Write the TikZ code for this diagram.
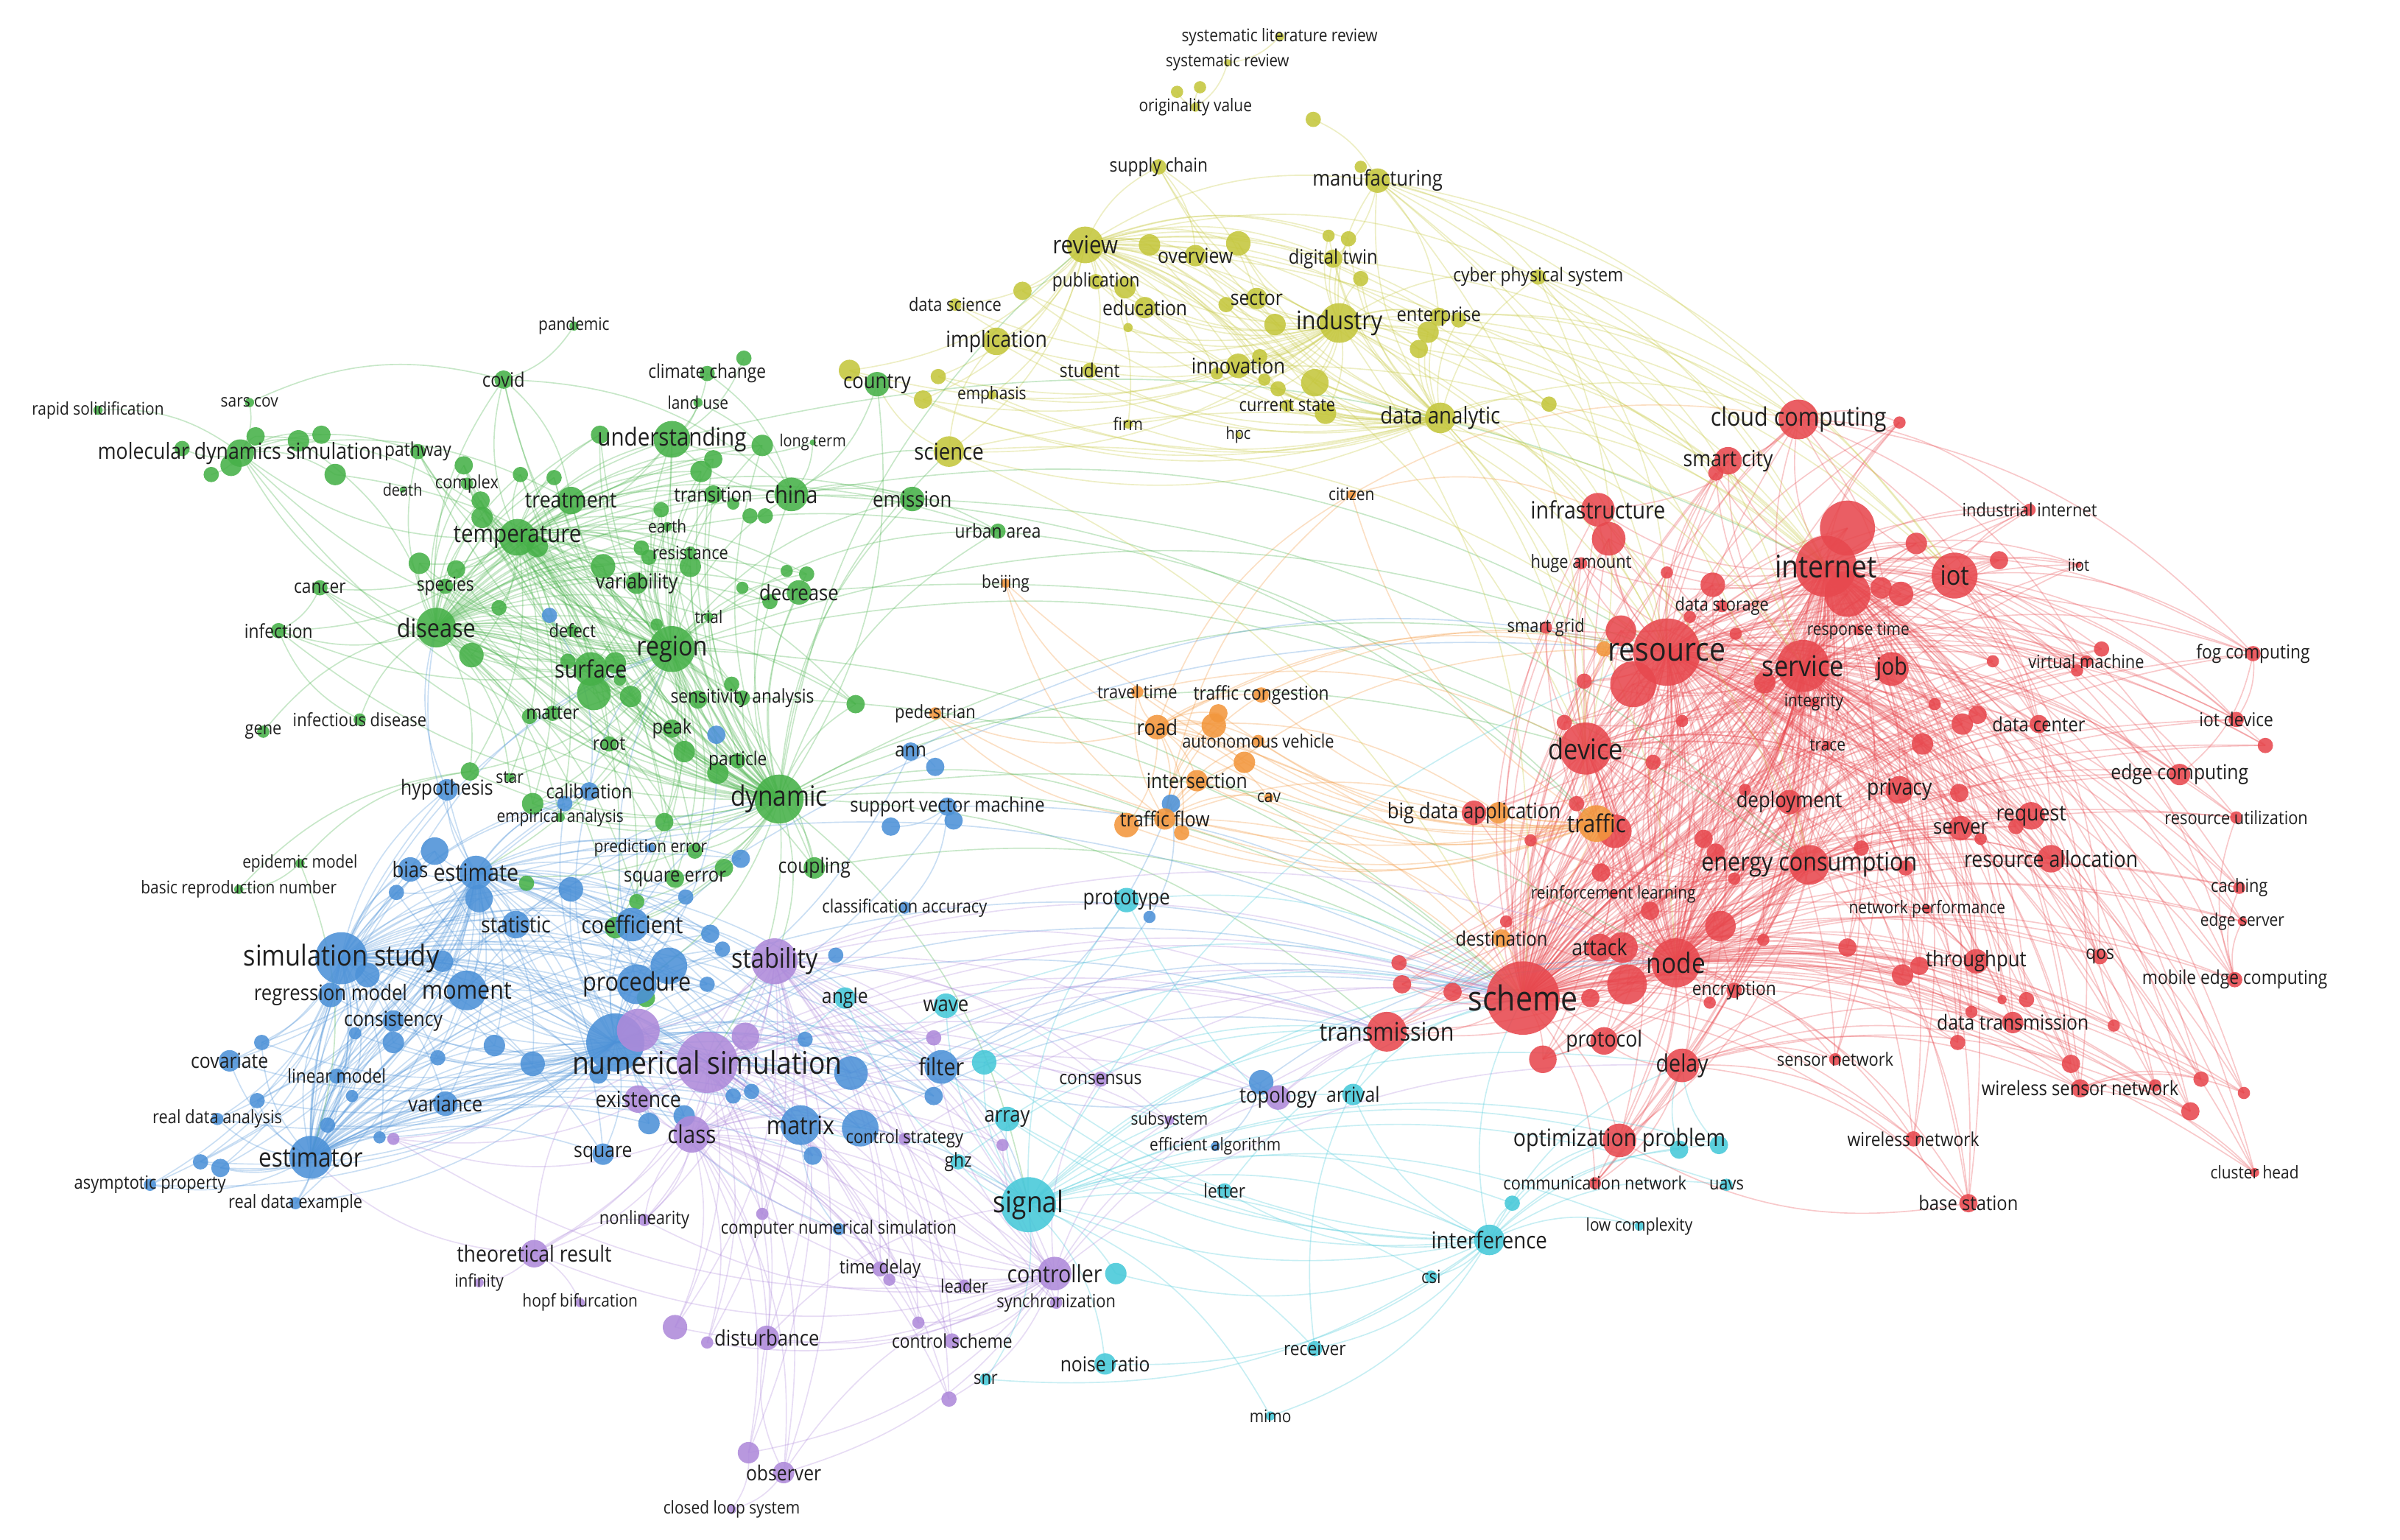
\documentclass[tikz,border=0pt]{standalone}
\usepackage{fontspec}
\setmainfont{Open Sans}[FakeStretch=0.88]
\usepackage{tikz}
\usetikzlibrary{positioning}

\definecolor{kwred}{RGB}{231,72,78}
\definecolor{kwgreen}{RGB}{70,176,72}
\definecolor{kwblue}{RGB}{76,145,215}
\definecolor{kwyellow}{RGB}{196,198,60}
\definecolor{kwpurple}{RGB}{174,138,218}
\definecolor{kwcyan}{RGB}{70,200,216}
\definecolor{kworange}{RGB}{242,150,60}

\pgfdeclarelayer{bg}
\pgfdeclarelayer{fg}
\pgfsetlayers{bg,main,fg}

\tikzset{
  kwdot/.style={circle, inner sep=0pt, draw=none, fill opacity=0.88},
  kwtext/.style={inner sep=0pt, text=black!88},
  link/.style={line width=0.45pt, draw opacity=0.3, bend left=20}
}

% keyword: name, x, y, radius, colour, label
\newcommand{\kw}[6]{%
  \pgfmathsetmacro{\kwfs}{5.6+0.3*#4}%
  \node[kwdot, fill=#5, minimum size={#4*0.04cm}] (#1) at (#2,#3) {};
  \if\relax\detokenize{#6}\relax\else
  \begin{pgfonlayer}{fg}
    \node[kwtext, font=\fontsize{\kwfs}{\kwfs}\selectfont] (#1-l) at (#2,#3) {#6};
  \end{pgfonlayer}\fi
}

\begin{document}
\begin{tikzpicture}[x=0.02cm, y=-0.02cm]
	\useasboundingbox (0,0) rectangle (1568,1006);

	% yellow cluster
	\kw{slr}{836}{24}{3}{kwyellow}{systematic literature review}
	\kw{sysrev}{802}{41}{2.5}{kwyellow}{systematic review}
	\kw{y1}{769}{60}{4}{kwyellow}{}
	\kw{y2}{784}{57}{4}{kwyellow}{}
	\kw{origin}{781}{70}{3}{kwyellow}{originality value}
	\kw{y3}{858}{78}{5}{kwyellow}{}
	\kw{supply}{757}{109}{5}{kwyellow}{supply chain}
	\kw{y4}{889}{109}{4}{kwyellow}{}
	\kw{manuf}{900}{118}{8}{kwyellow}{manufacturing}
	\kw{review}{709}{160}{12}{kwyellow}{review}
	\kw{y5}{751}{160}{7}{kwyellow}{}
	\kw{overview}{781}{167}{7}{kwyellow}{overview}
	\kw{y6}{809}{159}{8}{kwyellow}{}
	\kw{y7}{868}{154}{4}{kwyellow}{}
	\kw{y8}{881}{156}{5}{kwyellow}{}
	\kw{dtwin}{871}{169}{6}{kwyellow}{digital twin}
	\kw{y9}{889}{182}{5}{kwyellow}{}
	\kw{cps}{1005}{181}{5}{kwyellow}{cyber physical system}
	\kw{public}{716}{184}{5}{kwyellow}{publication}
	\kw{y10}{735}{188}{7}{kwyellow}{}
	\kw{y11}{668}{190}{6}{kwyellow}{}
	\kw{datasci}{624}{199}{4}{kwyellow}{data science}
	\kw{educ}{748}{201}{7}{kwyellow}{education}
	\kw{y12}{737}{214}{3}{kwyellow}{}
	\kw{sector}{821}{195}{7}{kwyellow}{sector}
	\kw{y13}{801}{199}{5}{kwyellow}{}
	\kw{industry}{875}{211}{13}{kwyellow}{industry}
	\kw{y14}{833}{212}{7}{kwyellow}{}
	\kw{enterp}{940}{207}{6}{kwyellow}{enterprise}
	\kw{y15}{953}{209}{5}{kwyellow}{}
	\kw{y16}{933}{217}{7}{kwyellow}{}
	\kw{y17}{927}{228}{6}{kwyellow}{}
	\kw{implic}{651}{223}{9}{kwyellow}{implication}
	\kw{y18}{555}{242}{7}{kwyellow}{}
	\kw{y19}{613}{246}{5}{kwyellow}{}
	\kw{y20}{603}{261}{6}{kwyellow}{}
	\kw{emph}{648}{258}{3}{kwyellow}{emphasis}
	\kw{student}{712}{242}{5}{kwyellow}{student}
	\kw{innov}{809}{239}{8}{kwyellow}{innovation}
	\kw{y21}{823}{233}{5}{kwyellow}{}
	\kw{y22}{795}{244}{4}{kwyellow}{}
	\kw{y23}{859}{250}{9}{kwyellow}{}
	\kw{y24}{826}{248}{4}{kwyellow}{}
	\kw{y25}{835}{254}{5}{kwyellow}{}
	\kw{curstate}{841}{265}{4}{kwyellow}{current state}
	\kw{y26}{866}{270}{7}{kwyellow}{}
	\kw{danalytic}{941}{273}{10}{kwyellow}{data analytic}
	\kw{y27}{1012}{264}{5}{kwyellow}{}
	\kw{firm}{737}{277}{3}{kwyellow}{firm}
	\kw{hpc}{809}{284}{2}{kwyellow}{hpc}
	\kw{science}{620}{295}{10}{kwyellow}{science}

	% green cluster
	\kw{pandemic}{375}{213}{3}{kwgreen}{pandemic}
	\kw{covid}{329}{248}{6}{kwgreen}{covid}
	\kw{climate}{462}{244}{5}{kwgreen}{climate change}
	\kw{g1}{486}{234}{5}{kwgreen}{}
	\kw{landuse}{456}{263}{3}{kwgreen}{land use}
	\kw{country}{573}{251}{8}{kwgreen}{country}
	\kw{rapid}{64}{268}{3}{kwgreen}{rapid solidification}
	\kw{sarscov}{163}{263}{3}{kwgreen}{sars cov}
	\kw{g2}{167}{285}{6}{kwgreen}{}
	\kw{g3}{151}{304}{7}{kwgreen}{}
	\kw{g4}{138}{310}{5}{kwgreen}{}
	\kw{g5}{119}{293}{5}{kwgreen}{}
	\kw{g6}{195}{288}{7}{kwgreen}{}
	\kw{g7}{210}{284}{6}{kwgreen}{}
	\kw{g8}{219}{310}{7}{kwgreen}{}
	\kw{mds}{157}{296}{9}{kwgreen}{molecular dynamics simulation}
	\kw{pathway}{273}{295}{5}{kwgreen}{pathway}
	\kw{g9}{303}{304}{6}{kwgreen}{}
	\kw{complex}{305}{316}{4}{kwgreen}{complex}
	\kw{death}{263}{320}{2}{kwgreen}{death}
	\kw{g10}{314}{327}{6}{kwgreen}{}
	\kw{g11}{315}{338}{7}{kwgreen}{}
	\kw{g12}{340}{310}{5}{kwgreen}{}
	\kw{g13}{362}{312}{5}{kwgreen}{}
	\kw{treat}{373}{327}{9}{kwgreen}{treatment}
	\kw{underst}{439}{287}{12}{kwgreen}{understanding}
	\kw{g14}{392}{284}{6}{kwgreen}{}
	\kw{g15}{498}{291}{7}{kwgreen}{}
	\kw{longterm}{531}{289}{2}{kwgreen}{long term}
	\kw{g16}{466}{300}{6}{kwgreen}{}
	\kw{g17}{458}{308}{7}{kwgreen}{}
	\kw{transit}{466}{323}{6}{kwgreen}{transition}
	\kw{g18}{479}{329}{4}{kwgreen}{}
	\kw{g19}{490}{337}{5}{kwgreen}{}
	\kw{g20}{500}{337}{5}{kwgreen}{}
	\kw{china}{517}{323}{11}{kwgreen}{china}
	\kw{g21}{432}{333}{5}{kwgreen}{}
	\kw{earth}{436}{344}{3}{kwgreen}{earth}
	\kw{temper}{338}{351}{12}{kwgreen}{temperature}
	\kw{g22}{351}{357}{7}{kwgreen}{}
	\kw{g23}{419}{358}{5}{kwgreen}{}
	\kw{g24}{424}{364}{5}{kwgreen}{}
	\kw{g25}{451}{370}{7}{kwgreen}{}
	\kw{resist}{451}{361}{4}{kwgreen}{resistance}
	\kw{g26}{394}{370}{8}{kwgreen}{}
	\kw{variab}{416}{381}{7}{kwgreen}{variability}
	\kw{emission}{596}{326}{8}{kwgreen}{emission}
	\kw{urban}{652}{347}{5}{kwgreen}{urban area}
	\kw{g27}{514}{373}{4}{kwgreen}{}
	\kw{g28}{527}{375}{5}{kwgreen}{}
	\kw{decrease}{522}{387}{8}{kwgreen}{decrease}
	\kw{g29}{503}{393}{5}{kwgreen}{}
	\kw{g30}{485}{384}{4}{kwgreen}{}
	\kw{g31}{298}{372}{6}{kwgreen}{}
	\kw{g32}{274}{368}{7}{kwgreen}{}
	\kw{species}{291}{383}{5}{kwgreen}{species}
	\kw{cancer}{209}{384}{5}{kwgreen}{cancer}
	\kw{infect}{182}{412}{5}{kwgreen}{infection}
	\kw{disease}{285}{410}{13}{kwgreen}{disease}
	\kw{g33}{326}{397}{5}{kwgreen}{}
	\kw{g34}{308}{428}{8}{kwgreen}{}
	\kw{defect}{374}{412}{4}{kwgreen}{defect}
	\kw{g35}{429}{408}{4}{kwgreen}{}
	\kw{trial}{463}{403}{3}{kwgreen}{trial}
	\kw{region}{439}{424}{15}{kwgreen}{region}
	\kw{g36}{388}{453}{11}{kwgreen}{}
	\kw{g37}{402}{433}{7}{kwgreen}{}
	\kw{g38}{371}{432}{5}{kwgreen}{}
	\kw{g39}{412}{455}{7}{kwgreen}{}
	\kw{g40}{405}{444}{4}{kwgreen}{}
	\kw{surface}{386}{437}{11}{kwgreen}{surface}
	\kw{g41}{456}{457}{6}{kwgreen}{}
	\kw{g42}{478}{447}{5}{kwgreen}{}
	\kw{sensit}{485}{456}{5}{kwgreen}{sensitivity analysis}
	\kw{gene}{172}{478}{4}{kwgreen}{gene}
	\kw{infdis}{235}{470}{4}{kwgreen}{infectious disease}
	\kw{g43}{346}{468}{5}{kwgreen}{}
	\kw{matter}{361}{466}{5}{kwgreen}{matter}
	\kw{peak}{439}{476}{6}{kwgreen}{peak}
	\kw{g44}{447}{491}{7}{kwgreen}{}
	\kw{root}{398}{486}{5}{kwgreen}{root}
	\kw{g45}{469}{505}{7}{kwgreen}{}
	\kw{particle}{482}{497}{5}{kwgreen}{particle}
	\kw{g46}{307}{504}{6}{kwgreen}{}
	\kw{star}{333}{508}{3}{kwgreen}{star}
	\kw{g47}{348}{525}{7}{kwgreen}{}
	\kw{empir}{366}{534}{3}{kwgreen}{empirical analysis}
	\kw{g48}{434}{537}{6}{kwgreen}{}
	\kw{g49}{454}{556}{5}{kwgreen}{}
	\kw{dynamic}{509}{522}{16}{kwgreen}{dynamic}
	\kw{g50}{559}{460}{6}{kwgreen}{}
	\kw{g51}{473}{567}{6}{kwgreen}{}
	\kw{sqerr}{441}{574}{6}{kwgreen}{square error}
	\kw{g52}{416}{589}{5}{kwgreen}{}
	\kw{g53}{402}{606}{7}{kwgreen}{}
	\kw{g54}{344}{577}{5}{kwgreen}{}
	\kw{coupling}{532}{567}{7}{kwgreen}{coupling}
	\kw{epidem}{196}{564}{3}{kwgreen}{epidemic model}
	\kw{basicrep}{156}{581}{3}{kwgreen}{basic reproduction number}
	\kw{g55}{422}{652}{6}{kwgreen}{}

	% blue cluster
	\kw{b1}{359}{402}{5}{kwblue}{}
	\kw{b2}{468}{480}{6}{kwblue}{}
	\kw{hypoth}{292}{516}{7}{kwblue}{hypothesis}
	\kw{b3}{369}{525}{5}{kwblue}{}
	\kw{calib}{385}{517}{6}{kwblue}{calibration}
	\kw{prederr}{425}{554}{3}{kwblue}{prediction error}
	\kw{b4}{484}{561}{6}{kwblue}{}
	\kw{b5}{448}{586}{5}{kwblue}{}
	\kw{b6}{373}{581}{8}{kwblue}{}
	\kw{ann}{595}{491}{6}{kwblue}{ann}
	\kw{b7}{611}{501}{6}{kwblue}{}
	\kw{b8}{623}{536}{6}{kwblue}{}
	\kw{b9}{582}{540}{6}{kwblue}{}
	\kw{svm}{619}{527}{6}{kwblue}{support vector machine}
	\kw{classacc}{591}{593}{4}{kwblue}{classification accuracy}
	\kw{b10}{765}{525}{6}{kwblue}{}
	\kw{b11}{751}{599}{4}{kwblue}{}
	\kw{b12}{546}{624}{5}{kwblue}{}
	\kw{b13}{284}{556}{9}{kwblue}{}
	\kw{bias}{268}{568}{8}{kwblue}{bias}
	\kw{b14}{313}{587}{9}{kwblue}{}
	\kw{b15}{259}{583}{5}{kwblue}{}
	\kw{estimate}{311}{570}{11}{kwblue}{estimate}
	\kw{statist}{337}{604}{9}{kwblue}{statistic}
	\kw{coeff}{413}{604}{11}{kwblue}{coefficient}
	\kw{b16}{240}{637}{8}{kwblue}{}
	\kw{b17}{289}{628}{7}{kwblue}{}
	\kw{simstudy}{223}{626}{17}{kwblue}{simulation study}
	\kw{regmodel}{216}{650}{8}{kwblue}{regression model}
	\kw{moment}{305}{647}{13}{kwblue}{moment}
	\kw{b18}{437}{631}{12}{kwblue}{}
	\kw{proced}{416}{643}{13}{kwblue}{procedure}
	\kw{b19}{464}{610}{6}{kwblue}{}
	\kw{b20}{472}{620}{5}{kwblue}{}
	\kw{b21}{462}{643}{5}{kwblue}{}
	\kw{consist}{257}{667}{7}{kwblue}{consistency}
	\kw{b22}{232}{675}{4}{kwblue}{}
	\kw{b23}{257}{681}{7}{kwblue}{}
	\kw{covar}{150}{693}{7}{kwblue}{covariate}
	\kw{b24}{171}{681}{5}{kwblue}{}
	\kw{b25}{286}{691}{5}{kwblue}{}
	\kw{b26}{323}{683}{7}{kwblue}{}
	\kw{b27}{348}{695}{8}{kwblue}{}
	\kw{numsimb}{402}{681}{19}{kwblue}{}
	\kw{linmodel}{220}{703}{5}{kwblue}{linear model}
	\kw{b28}{230}{716}{4}{kwblue}{}
	\kw{variance}{291}{721}{8}{kwblue}{variance}
	\kw{realda}{142}{731}{4}{kwblue}{real data analysis}
	\kw{b29}{168}{719}{5}{kwblue}{}
	\kw{b30}{391}{702}{6}{kwblue}{}
	\kw{b31}{479}{716}{5}{kwblue}{}
	\kw{b32}{491}{713}{5}{kwblue}{}
	\kw{b33}{447}{729}{7}{kwblue}{}
	\kw{b34}{424}{734}{7}{kwblue}{}
	\kw{square}{394}{754}{7}{kwblue}{square}
	\kw{b35}{214}{735}{5}{kwblue}{}
	\kw{b36}{248}{743}{4}{kwblue}{}
	\kw{estimator}{203}{756}{14}{kwblue}{estimator}
	\kw{b37}{131}{759}{5}{kwblue}{}
	\kw{b38}{144}{763}{6}{kwblue}{}
	\kw{asympt}{98}{774}{4}{kwblue}{asymptotic property}
	\kw{realde}{193}{786}{4}{kwblue}{real data example}
	\kw{matrixkw}{523}{735}{13}{kwblue}{matrix}
	\kw{b39}{531}{755}{6}{kwblue}{}
	\kw{b40}{556}{701}{11}{kwblue}{}
	\kw{b41}{526}{679}{5}{kwblue}{}
	\kw{b42}{562}{737}{12}{kwblue}{}
	\kw{filter}{615}{697}{11}{kwblue}{filter}
	\kw{b44}{610}{716}{6}{kwblue}{}
	\kw{b45}{824}{707}{8}{kwblue}{}
	\kw{effalg}{794}{749}{3}{kwblue}{efficient algorithm}
	\kw{compnum}{548}{803}{4}{kwblue}{computer numerical simulation}

	% purple cluster
	\kw{p1}{417}{673}{14}{kwpurple}{}
	\kw{p2}{487}{677}{9}{kwpurple}{}
	\kw{numsim}{462}{694}{20}{kwpurple}{numerical simulation}
	\kw{stability}{506}{628}{15}{kwpurple}{stability}
	\kw{p3}{610}{678}{5}{kwpurple}{}
	\kw{exist}{417}{718}{9}{kwpurple}{existence}
	\kw{class}{452}{741}{12}{kwpurple}{class}
	\kw{p4}{257}{744}{4}{kwpurple}{}
	\kw{ctrlstrat}{591}{744}{4}{kwpurple}{control strategy}
	\kw{p5}{655}{748}{4}{kwpurple}{}
	\kw{consensus}{719}{705}{5}{kwpurple}{consensus}
	\kw{topology}{835}{717}{8}{kwpurple}{topology}
	\kw{subsys}{764}{732}{3}{kwpurple}{subsystem}
	\kw{nonlin}{421}{797}{4}{kwpurple}{nonlinearity}
	\kw{p6}{498}{793}{4}{kwpurple}{}
	\kw{theores}{349}{819}{9}{kwpurple}{theoretical result}
	\kw{infinity}{313}{838}{3}{kwpurple}{infinity}
	\kw{hopf}{379}{851}{3}{kwpurple}{hopf bifurcation}
	\kw{timedelay}{575}{829}{5}{kwpurple}{time delay}
	\kw{p7}{581}{836}{4}{kwpurple}{}
	\kw{leader}{630}{840}{4}{kwpurple}{leader}
	\kw{controller}{689}{832}{11}{kwpurple}{controller}
	\kw{synchro}{690}{851}{4}{kwpurple}{synchronization}
	\kw{p8}{441}{867}{8}{kwpurple}{}
	\kw{disturb}{501}{874}{8}{kwpurple}{disturbance}
	\kw{p9}{462}{877}{4}{kwpurple}{}
	\kw{p10}{600}{864}{4}{kwpurple}{}
	\kw{ctrlscheme}{622}{876}{5}{kwpurple}{control scheme}
	\kw{p11}{620}{914}{5}{kwpurple}{}
	\kw{p12}{489}{949}{7}{kwpurple}{}
	\kw{observer}{512}{962}{7}{kwpurple}{observer}
	\kw{closedloop}{478}{986}{3}{kwpurple}{closed loop system}

	% cyan cluster
	\kw{angle}{552}{652}{7}{kwcyan}{angle}
	\kw{wave}{618}{657}{8}{kwcyan}{wave}
	\kw{c1}{643}{694}{8}{kwcyan}{}
	\kw{array}{658}{731}{8}{kwcyan}{array}
	\kw{ghz}{626}{759}{5}{kwcyan}{ghz}
	\kw{signal}{672}{787}{18}{kwcyan}{signal}
	\kw{letter}{800}{778}{5}{kwcyan}{letter}
	\kw{arrival}{884}{715}{7}{kwcyan}{arrival}
	\kw{c2}{729}{832}{7}{kwcyan}{}
	\kw{snr}{644}{901}{4}{kwcyan}{snr}
	\kw{noise}{722}{891}{7}{kwcyan}{noise ratio}
	\kw{receiver}{859}{881}{5}{kwcyan}{receiver}
	\kw{mimo}{830}{925}{3}{kwcyan}{mimo}
	\kw{interf}{973}{810}{10}{kwcyan}{interference}
	\kw{csi}{935}{834}{4}{kwcyan}{csi}
	\kw{c3}{988}{786}{5}{kwcyan}{}
	\kw{lowcomp}{1071}{801}{3}{kwcyan}{low complexity}
	\kw{uavs}{1128}{774}{4}{kwcyan}{uavs}
	\kw{c4}{1097}{751}{6}{kwcyan}{}
	\kw{c5}{1123}{748}{6}{kwcyan}{}
	\kw{prototype}{736}{588}{8}{kwcyan}{prototype}

	% orange cluster
	\kw{citizen}{883}{323}{3}{kworange}{citizen}
	\kw{beijing}{657}{381}{3}{kworange}{beijing}
	\kw{pedest}{611}{466}{4}{kworange}{pedestrian}
	\kw{travel}{743}{452}{4}{kworange}{travel time}
	\kw{congest}{824}{454}{5}{kworange}{traffic congestion}
	\kw{o1}{796}{466}{6}{kworange}{}
	\kw{o2}{793}{474}{8}{kworange}{}
	\kw{road}{756}{475}{8}{kworange}{road}
	\kw{autoveh}{822}{484}{4}{kworange}{autonomous vehicle}
	\kw{o3}{813}{498}{7}{kworange}{}
	\kw{intersect}{782}{510}{7}{kworange}{intersection}
	\kw{cav}{829}{521}{3}{kworange}{cav}
	\kw{o4}{736}{539}{8}{kworange}{}
	\kw{o5}{772}{544}{5}{kworange}{}
	\kw{trflow}{761}{535}{7}{kworange}{traffic flow}
	\kw{o6}{979}{531}{7}{kworange}{}
	\kw{dest}{981}{613}{6}{kworange}{destination}
	\kw{o7}{1048}{424}{5}{kworange}{}

	% red cluster
	\kw{cloud}{1175}{274}{13}{kwred}{cloud computing}
	\kw{r1}{1241}{276}{4}{kwred}{}
	\kw{r2}{1121}{309}{5}{kwred}{}
	\kw{smartcity}{1129}{301}{9}{kwred}{smart city}
	\kw{r3}{1051}{352}{11}{kwred}{}
	\kw{infra}{1044}{333}{11}{kwred}{infrastructure}
	\kw{huge}{1033}{368}{4}{kwred}{huge amount}
	\kw{r4}{1089}{374}{4}{kwred}{}
	\kw{r5}{1119}{382}{8}{kwred}{}
	\kw{indint}{1326}{333}{4}{kwred}{industrial internet}
	\kw{r6}{1207}{345}{18}{kwred}{}
	\kw{r7}{1207}{388}{15}{kwred}{}
	\kw{inet}{1193}{370}{20}{kwred}{internet}
	\kw{r8}{1252}{355}{7}{kwred}{}
	\kw{r9}{1306}{366}{6}{kwred}{}
	\kw{r10}{1229}{384}{7}{kwred}{}
	\kw{r11}{1242}{388}{8}{kwred}{}
	\kw{iot}{1277}{376}{15}{kwred}{iot}
	\kw{iiot}{1358}{369}{2}{kwred}{iiot}
	\kw{r12}{1104}{403}{4}{kwred}{}
	\kw{datastor}{1125}{396}{4}{kwred}{data storage}
	\kw{smartgrid}{1010}{410}{4}{kwred}{smart grid}
	\kw{r13}{1059}{412}{10}{kwred}{}
	\kw{r14}{1067}{447}{15}{kwred}{}
	\kw{r15}{1134}{414}{4}{kwred}{}
	\kw{resource}{1089}{426}{22}{kwred}{resource}
	\kw{resptime}{1214}{412}{3}{kwred}{response time}
	\kw{r16}{1153}{446}{7}{kwred}{}
	\kw{service}{1178}{435}{17}{kwred}{service}
	\kw{job}{1236}{437}{11}{kwred}{job}
	\kw{r18}{1302}{432}{4}{kwred}{}
	\kw{r19}{1373}{424}{5}{kwred}{}
	\kw{r20}{1357}{438}{4}{kwred}{}
	\kw{virtmach}{1363}{432}{4}{kwred}{virtual machine}
	\kw{fog}{1472}{427}{5}{kwred}{fog computing}
	\kw{integrity}{1185}{459}{3}{kwred}{integrity}
	\kw{r21}{1035}{445}{5}{kwred}{}
	\kw{r22}{1099}{471}{4}{kwred}{}
	\kw{r23}{1264}{460}{4}{kwred}{}
	\kw{r24}{1282}{473}{7}{kwred}{}
	\kw{r25}{1292}{467}{6}{kwred}{}
	\kw{datacenter}{1332}{473}{6}{kwred}{data center}
	\kw{iotdev}{1461}{470}{5}{kwred}{iot device}
	\kw{r26}{1480}{487}{5}{kwred}{}
	\kw{r27}{1022}{472}{5}{kwred}{}
	\kw{trace}{1194}{487}{3}{kwred}{trace}
	\kw{device}{1036}{489}{17}{kwred}{device}
	\kw{r28}{1256}{486}{7}{kwred}{}
	\kw{r29}{1080}{498}{5}{kwred}{}
	\kw{edgecomp}{1424}{506}{7}{kwred}{edge computing}
	\kw{privacy}{1241}{516}{9}{kwred}{privacy}
	\kw{r30}{1280}{518}{6}{kwred}{}
	\kw{r31}{1140}{516}{4}{kwred}{}
	\kw{deploy}{1169}{524}{8}{kwred}{deployment}
	\kw{r32}{1317}{540}{5}{kwred}{}
	\kw{request}{1327}{533}{9}{kwred}{request}
	\kw{r33}{1294}{548}{4}{kwred}{}
	\kw{server}{1281}{541}{8}{kwred}{server}
	\kw{resutil}{1461}{534}{4}{kwred}{resource utilization}
	\kw{bigdata}{963}{531}{8}{kwred}{big data application}
	\kw{r34}{1055}{543}{11}{kwred}{}
	\kw{traffic}{1043}{538}{12}{kworange}{traffic}
	\kw{r35}{1030}{525}{5}{kwred}{}
	\kw{r36}{1000}{549}{4}{kwred}{}
	\kw{r37}{1113}{548}{6}{kwred}{}
	\kw{r38}{1121}{557}{6}{kwred}{}
	\kw{r39}{1216}{554}{5}{kwred}{}
	\kw{r40}{1245}{567}{5}{kwred}{}
	\kw{r41}{1133}{574}{4}{kwred}{}
	\kw{energy}{1182}{565}{13}{kwred}{energy consumption}
	\kw{resalloc}{1340}{561}{9}{kwred}{resource allocation}
	\kw{r42}{1046}{570}{6}{kwred}{}
	\kw{reinf}{1054}{584}{3}{kwred}{reinforcement learning}
	\kw{caching}{1463}{580}{4}{kwred}{caching}
	\kw{netperf}{1259}{594}{3}{kwred}{network performance}
	\kw{edgeserv}{1465}{602}{3}{kwred}{edge server}
	\kw{r43}{984}{602}{4}{kwred}{}
	\kw{r44}{1078}{595}{6}{kwred}{}
	\kw{r45}{1124}{605}{10}{kwred}{}
	\kw{r46}{1152}{614}{4}{kwred}{}
	\kw{r47}{1207}{619}{6}{kwred}{}
	\kw{r48}{1060}{619}{10}{kwred}{}
	\kw{attack}{1045}{619}{9}{kwred}{attack}
	\kw{r49}{1063}{643}{13}{kwred}{}
	\kw{nodekw}{1095}{629}{16}{kwred}{node}
	\kw{r50}{949}{648}{6}{kwred}{}
	\kw{r51}{1039}{652}{6}{kwred}{}
	\kw{r52}{914}{629}{5}{kwred}{}
	\kw{r53}{916}{643}{6}{kwred}{}
	\kw{scheme}{995}{652}{24}{kwred}{scheme}
	\kw{r54}{1117}{655}{4}{kwred}{}
	\kw{encrypt}{1133}{647}{5}{kwred}{encryption}
	\kw{transm}{906}{674}{13}{kwred}{transmission}
	\kw{r55}{1008}{692}{9}{kwred}{}
	\kw{protocol}{1048}{680}{9}{kwred}{protocol}
	\kw{delay}{1099}{696}{11}{kwred}{delay}
	\kw{r56}{1243}{637}{7}{kwred}{}
	\kw{r57}{1254}{631}{6}{kwred}{}
	\kw{throughput}{1291}{628}{8}{kwred}{throughput}
	\kw{qos}{1372}{625}{5}{kwred}{qos}
	\kw{mec}{1460}{640}{5}{kwred}{mobile edge computing}
	\kw{r58}{1308}{653}{3}{kwred}{}
	\kw{r59}{1324}{653}{5}{kwred}{}
	\kw{r60}{1288}{661}{4}{kwred}{}
	\kw{datatrans}{1315}{668}{7}{kwred}{data transmission}
	\kw{r61}{1381}{670}{4}{kwred}{}
	\kw{r62}{1279}{681}{5}{kwred}{}
	\kw{sensornet}{1199}{692}{4}{kwred}{sensor network}
	\kw{r63}{1353}{695}{6}{kwred}{}
	\kw{r64}{1408}{709}{4}{kwred}{}
	\kw{r65}{1438}{705}{5}{kwred}{}
	\kw{r66}{1466}{714}{4}{kwred}{}
	\kw{r67}{1431}{726}{6}{kwred}{}
	\kw{wsn}{1359}{711}{6}{kwred}{wireless sensor network}
	\kw{wirelessnet}{1250}{744}{5}{kwred}{wireless network}
	\kw{clusterhead}{1473}{766}{3}{kwred}{cluster head}
	\kw{basestation}{1286}{786}{6}{kwred}{base station}
	\kw{optim}{1058}{745}{11}{kwred}{optimization problem}
	\kw{commnet}{1042}{773}{4}{kwred}{communication network}

	\begin{pgfonlayer}{bg}
	% red links
	\foreach \h in {scheme,inet,resource,service,nodekw}
		\foreach \t in {cloud,r1,smartcity,r2,infra,r3,huge,r4,r5,indint,r6,r7,r8,r9,r10,r11,iot,iiot,datastor,r12,smartgrid,r13,r14,r15,resptime,r16,job,r18,virtmach,r19,r20,fog,integrity,r21,r22,r23,r24,r25,datacenter,iotdev,r26,r27,trace,device,r28,r29,edgecomp,privacy,r30,deploy,r31,request,r32,server,r33,resutil,bigdata,r34,r35,r36,r37,r38,r39,r40,r41,energy,resalloc,r42,reinf,caching,netperf,edgeserv,r43,r44,r45,r46,r47,attack,r48,r49,r50,r51,r52,r53,encrypt,r54,transm,protocol,r55,delay,throughput,r56,r57,qos,mec,r58,r59,datatrans,r60,r61,r62,sensornet,r63,wsn,r64,r65,r66,r67,wirelessnet,clusterhead,basestation,optim,commnet}
			\draw[link, kwred] (\h.center) to (\t.center);
	\foreach \h in {device,energy}
		\foreach \t in {r3,r5,r6,r7,r13,r14,r16,job,privacy,deploy,server,request,r34,r37,r38,r45,r48,r49,attack,protocol,r55,transm,throughput,resalloc,datacenter,r24,r28,optim,encrypt,bigdata,r35,r36,r42,r44}
			\draw[link, kwred] (\h.center) to (\t.center);
	\foreach \a/\b in {scheme/inet,scheme/resource,scheme/service,scheme/nodekw,inet/resource,inet/service,inet/nodekw,resource/service,resource/nodekw,service/nodekw,
		iot/fog,iot/iotdev,iot/edgecomp,iot/iiot,iot/indint,iot/virtmach,iot/datacenter,iot/mec,iot/wsn,iot/qos,iot/resalloc,iot/cloud,iot/r9,iot/r8,
		delay/wsn,delay/basestation,delay/throughput,delay/wirelessnet,delay/sensornet,delay/datatrans,delay/optim,delay/commnet,delay/protocol,delay/r63,delay/r67,
		cloud/smartcity,cloud/infra,cloud/fog,cloud/virtmach,cloud/datacenter,cloud/job,cloud/r1,cloud/indint,
		device/smartgrid,device/huge,device/attack,device/privacy,device/energy,energy/wsn,energy/basestation,energy/resalloc,energy/edgecomp,
		wsn/clusterhead,wsn/r65,wsn/r66,wsn/r67,wsn/r64,basestation/wirelessnet,basestation/optim,fog/edgecomp,fog/iotdev,mec/resutil,mec/caching,mec/edgeserv}
		\draw[link, kwred] (\a.center) to (\b.center);

	% green links
	\foreach \h in {region,dynamic,disease,temper}
		\foreach \t in {covid,mds,pathway,complex,g9,g10,g11,g12,g13,treat,underst,g14,g15,g16,g17,transit,china,g21,earth,g22,resist,g23,g24,g25,variab,g26,emission,decrease,g28,g29,species,g31,g32,cancer,infect,g33,g34,defect,trial,g35,surface,g36,g37,g39,sensit,g41,matter,peak,g44,root,particle,g45,g46,star,empir,g47,g48,g49,g50,sqerr,g52,g53,coupling,urban}
			\draw[link, kwgreen] (\h.center) to (\t.center);
	\foreach \a/\b in {region/dynamic,region/disease,region/temper,dynamic/disease,dynamic/temper,disease/temper,
		pandemic/covid,rapid/mds,sarscov/mds,sarscov/covid,covid/treat,covid/china,climate/underst,climate/china,g1/underst,landuse/underst,landuse/china,
		gene/disease,infdis/disease,infdis/infect,epidem/basicrep,epidem/g46,basicrep/g46,cancer/infect,longterm/underst,longterm/china,
		mds/g2,mds/g3,mds/g4,mds/g5,mds/g6,mds/g7,mds/g8,g2/temper,g6/disease,g8/region,mds/pathway,mds/treat,
		china/underst,china/emission,china/urban,underst/treat,underst/temper,underst/surface,treat/temper,surface/disease,surface/matter,country/dynamic,country/china}
		\draw[link, kwgreen] (\a.center) to (\b.center);

	% yellow links
	\foreach \h in {industry,review,danalytic}
		\foreach \t in {supply,manuf,y5,overview,y6,y7,y8,dtwin,y9,cps,public,y10,y11,datasci,educ,y12,sector,y13,y14,enterp,y15,y16,y17,implic,y18,y19,y20,emph,student,innov,y21,y22,y23,y24,y25,curstate,y26,y27,firm,science}
			\draw[link, kwyellow] (\h.center) to (\t.center);
	\foreach \a/\b in {industry/review,industry/danalytic,review/danalytic,manuf/dtwin,manuf/cps,manuf/enterp,manuf/y4,supply/overview,supply/sector,
		origin/y1,origin/y2,sysrev/origin,slr/sysrev,y3/manuf,science/implic,science/country}
		\draw[link, kwyellow] (\a.center) to (\b.center);

	% blue links
	\foreach \h in {simstudy,estimator,numsimb,estimate}
		\foreach \t in {hypoth,calib,b3,b4,b5,b6,bias,b13,b14,b15,statist,coeff,b16,b17,regmodel,moment,proced,b18,b19,b20,b21,consist,b22,b23,covar,b24,b25,b26,b27,linmodel,b28,variance,realda,b29,b30,b31,b32,b33,b34,square,b35,b36,b37,b38,asympt,realde,matrixkw,b39,b40,b41,b42,filter,b44,prederr}
			\draw[link, kwblue] (\h.center) to (\t.center);
	\foreach \a/\b in {simstudy/estimator,simstudy/numsimb,simstudy/estimate,estimator/numsimb,estimator/estimate,numsimb/estimate,
		svm/classacc,svm/b9,ann/b7,svm/numsimb,ann/numsimb,classacc/numsimb,b10/b11,b10/filter,b11/filter,b45/effalg,b45/filter,compnum/matrixkw,compnum/numsimb,b12/numsimb,b2/proced,b1/calib}
		\draw[link, kwblue] (\a.center) to (\b.center);

	% purple links
	\foreach \h in {numsim,stability,class,controller}
		\foreach \t in {p1,p2,p3,exist,p4,ctrlstrat,p5,consensus,topology,subsys,nonlin,p6,theores,timedelay,p7,leader,synchro,p8,disturb,p9,p10,ctrlscheme,p11,p12,observer}
			\draw[link, kwpurple] (\h.center) to (\t.center);
	\foreach \a/\b in {numsim/stability,numsim/class,numsim/controller,stability/class,stability/controller,class/controller,
		theores/infinity,theores/hopf,theores/nonlin,observer/closedloop,p12/closedloop,observer/disturb}
		\draw[link, kwpurple] (\a.center) to (\b.center);

	% cyan links
	\foreach \h in {signal,interf}
		\foreach \t in {angle,wave,c1,array,ghz,letter,arrival,c2,snr,noise,receiver,mimo,csi,c3,lowcomp,uavs,c4,c5,prototype}
			\draw[link, kwcyan] (\h.center) to (\t.center);
	\draw[link, kwcyan] (signal.center) to (interf.center);

	% orange links
	\foreach \h in {traffic,road,trflow}
		\foreach \t in {citizen,beijing,pedest,travel,congest,o1,o2,autoveh,o3,intersect,cav,o4,o5,o6,dest,o7}
			\draw[link, kworange] (\h.center) to (\t.center);
	\foreach \a/\b in {traffic/road,traffic/trflow,road/trflow}
		\draw[link, kworange] (\a.center) to (\b.center);

	% links between clusters
	\foreach \a/\b/\c in {dynamic/scheme/kwgreen,dynamic/resource/kwgreen,dynamic/nodekw/kwgreen,dynamic/transm/kwgreen,dynamic/device/kwgreen,
		region/resource/kwgreen,region/scheme/kwgreen,region/device/kwgreen,underst/inet/kwgreen,china/resource/kwgreen,china/traffic/kwgreen,
		emission/energy/kwgreen,decrease/energy/kwgreen,coupling/scheme/kwgreen,sensit/scheme/kwgreen,dynamic/signal/kwgreen,dynamic/stability/kwgreen,
		dynamic/numsim/kwgreen,dynamic/proced/kwgreen,dynamic/coeff/kwgreen,dynamic/estimate/kwgreen,region/estimate/kwgreen,dynamic/science/kwgreen,
		china/science/kwgreen,dynamic/review/kwgreen,urban/traffic/kwgreen,dynamic/trflow/kwgreen,dynamic/road/kwgreen,
		industry/inet/kwyellow,industry/resource/kwyellow,industry/device/kwyellow,industry/service/kwyellow,industry/cloud/kwyellow,industry/iot/kwyellow,
		industry/scheme/kwyellow,danalytic/cloud/kwyellow,danalytic/resource/kwyellow,danalytic/inet/kwyellow,danalytic/device/kwyellow,
		danalytic/service/kwyellow,danalytic/infra/kwyellow,manuf/iot/kwyellow,manuf/inet/kwyellow,manuf/cloud/kwyellow,cps/iot/kwyellow,
		cps/inet/kwyellow,cps/resource/kwyellow,review/inet/kwyellow,review/device/kwyellow,enterp/cloud/kwyellow,enterp/inet/kwyellow,
		dtwin/iot/kwyellow,y27/inet/kwyellow,science/scheme/kwyellow,science/inet/kwyellow,science/resource/kwyellow,innov/inet/kwyellow,y23/resource/kwyellow,
		manuf/service/kwyellow,manuf/resource/kwyellow,manuf/device/kwyellow,manuf/energy/kwyellow,cps/service/kwyellow,cps/device/kwyellow,
		enterp/iot/kwyellow,industry/energy/kwyellow,danalytic/nodekw/kwyellow,y16/resource/kwyellow,y17/inet/kwyellow,
		numsimb/scheme/kwblue,proced/scheme/kwblue,estimate/scheme/kwblue,coeff/resource/kwblue,svm/scheme/kwblue,ann/resource/kwblue,
		b40/scheme/kwblue,matrixkw/scheme/kwblue,filter/scheme/kwblue,b45/nodekw/kwblue,b42/transm/kwblue,numsimb/transm/kwblue,
		numsim/scheme/kwpurple,stability/scheme/kwpurple,stability/nodekw/kwpurple,controller/delay/kwpurple,controller/scheme/kwpurple,
		class/scheme/kwpurple,numsim/transm/kwpurple,topology/nodekw/kwpurple,consensus/scheme/kwpurple,topology/scheme/kwpurple,
		p2/scheme/kwpurple,exist/transm/kwpurple,ctrlstrat/scheme/kwpurple,stability/transm/kwpurple,p3/transm/kwpurple,
		signal/scheme/kwcyan,signal/transm/kwcyan,signal/delay/kwcyan,signal/nodekw/kwcyan,signal/resource/kwcyan,interf/scheme/kwcyan,
		interf/optim/kwcyan,interf/delay/kwcyan,arrival/scheme/kwcyan,letter/scheme/kwcyan,wave/scheme/kwcyan,c4/delay/kwcyan,c5/delay/kwcyan,
		c3/optim/kwcyan,prototype/scheme/kwcyan,receiver/transm/kwcyan,array/transm/kwcyan,c1/scheme/kwcyan,ghz/transm/kwcyan,
		traffic/device/kworange,trflow/scheme/kworange,road/resource/kworange,intersect/scheme/kworange,dest/scheme/kworange,
		citizen/cloud/kworange,citizen/infra/kworange,travel/device/kworange,congest/resource/kworange,
		numsim/signal/kwpurple,stability/signal/kwpurple,matrixkw/signal/kwblue,filter/signal/kwblue,class/signal/kwpurple,controller/signal/kwpurple,
		proced/stability/kwblue,numsimb/numsim/kwblue,estimator/numsim/kwblue,simstudy/numsim/kwblue,moment/numsim/kwblue,coeff/stability/kwblue,
		theores/estimator/kwpurple,theores/numsimb/kwpurple,nonlin/class/kwpurple,disturb/signal/kwpurple,observer/controller/kwpurple,
		angle/numsim/kwcyan,wave/numsim/kwcyan,array/matrixkw/kwcyan,
		estimate/disease/kwblue,simstudy/region/kwblue,hypoth/disease/kwblue,calib/region/kwblue,bias/region/kwblue,statist/dynamic/kwblue,
		moment/dynamic/kwblue,coeff/dynamic/kwblue,proced/region/kwblue,epidem/estimator/kwgreen}
		\draw[link, \c] (\a.center) to (\b.center);
	\end{pgfonlayer}

\end{tikzpicture}
\end{document}
